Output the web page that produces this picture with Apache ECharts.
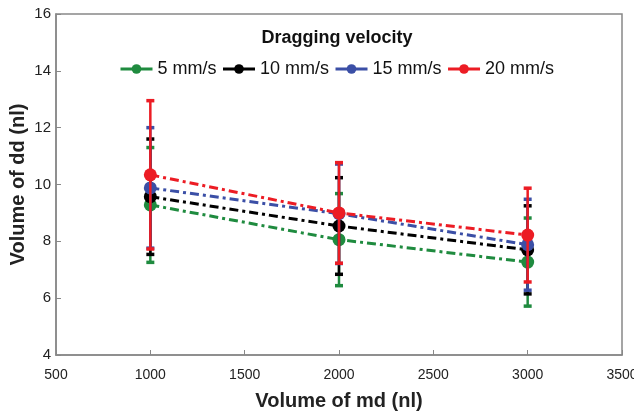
<!DOCTYPE html>
<html><head><meta charset="utf-8">
<script src="https://cdn.jsdelivr.net/npm/echarts@6/dist/echarts.min.js"></script>
<style>html,body{margin:0;padding:0;background:#fff}#c{width:634px;height:417px}</style>
</head><body><div id="c"></div>
<script>
const xs = [1000, 2000, 3000];
const names = ['5 mm/s', '10 mm/s', '15 mm/s', '20 mm/s'];
const v5 = [9.28, 8.06, 7.27];   const e5 = [2.02, 1.62, 1.55];
const v10 = [9.57, 8.54, 7.70];  const e10 = [2.03, 1.70, 1.55];
const v15 = [9.88, 8.97, 7.88];  const e15 = [2.12, 1.75, 1.60];
const v20 = [10.34, 9.00, 8.22]; const e20 = [2.61, 1.77, 1.65];
const xTicks = [500, 1000, 1500, 2000, 2500, 3000, 3500];
const yTicks = [4, 6, 8, 10, 12, 14, 16];

const colors = ['#1f8b3f', '#000000', '#3b4fa6', '#ec1c24'];
const vals = [v5, v10, v15, v20];
const errs = [e5, e10, e15, e20];

const font = 'Liberation Sans, Arial, Helvetica, sans-serif';
const series = [];
vals.forEach((v, i) => {
  const c = colors[i];
  series.push({
    type: 'custom', name: 'err' + i, z: 2 + i * 2,
    data: xs.map((x, k) => [x, v[k] - errs[i][k], v[k] + errs[i][k]]),
    renderItem: function (params, api) {
      const lo = api.coord([api.value(0), api.value(1)]);
      const hi = api.coord([api.value(0), api.value(2)]);
      const w = 4;
      return { type: 'group', children: [
        { type: 'line', shape: { x1: lo[0], y1: lo[1], x2: hi[0], y2: hi[1] }, style: { stroke: c, lineWidth: 2.5 } },
        { type: 'line', shape: { x1: lo[0] - w, y1: lo[1], x2: lo[0] + w, y2: lo[1] }, style: { stroke: c, lineWidth: 3.5 } },
        { type: 'line', shape: { x1: hi[0] - w, y1: hi[1], x2: hi[0] + w, y2: hi[1] }, style: { stroke: c, lineWidth: 3.5 } }
      ]};
    }
  });
  series.push({
    type: 'line', name: names[i], z: 3 + i * 2,
    data: xs.map((x, k) => [x, v[k]]),
    symbol: 'circle', symbolSize: 13,
    itemStyle: { color: c },
    lineStyle: { color: c, width: 3, type: [9, 4, 3, 4] },
    emphasis: { disabled: true }
  });
});

const chart = echarts.init(document.getElementById('c'));
chart.setOption({
  animation: false,
  backgroundColor: '#fff',
  title: { text: 'Dragging velocity', left: 332, top: 24, textAlign: 'center',
    textStyle: { fontFamily: font, fontWeight: 'bold', fontSize: 18, color: '#111' } },
  legend: { data: names, top: 55, left: 114, itemWidth: 32, itemHeight: 12, itemGap: 5,
    textStyle: { fontFamily: font, fontSize: 18, color: '#111' },
    lineStyle: { type: 'solid', width: 3 } },
  grid: { left: 56, right: 12, top: 14, bottom: 62, show: true, borderColor: '#888', borderWidth: 1.5,
    outerBoundsMode: 'none', containLabel: false },
  xAxis: { type: 'value', min: 500, max: 3500, interval: 500,
    name: 'Volume of md (nl)', nameLocation: 'middle', nameGap: 36, nameMoveOverlap: false,
    nameTextStyle: { fontFamily: font, fontWeight: 'bold', fontSize: 20, color: '#222' },
    axisLine: { lineStyle: { color: '#888', width: 1.5 } },
    axisTick: { inside: true, length: 5, lineStyle: { color: '#888' } },
    splitLine: { show: false },
    axisLabel: { fontFamily: font, fontSize: 14, color: '#222', margin: 13, formatter: v => String(v) } },
  yAxis: { type: 'value', min: 4, max: 16, interval: 2,
    name: 'Volume of dd (nl)', nameLocation: 'middle', nameGap: 28, nameMoveOverlap: false,
    nameTextStyle: { fontFamily: font, fontWeight: 'bold', fontSize: 20, color: '#222' },
    axisLine: { show: true, lineStyle: { color: '#888', width: 1.5 } },
    axisTick: { show: true, inside: true, length: 5, lineStyle: { color: '#888' } },
    splitLine: { show: false },
    axisLabel: { fontFamily: font, fontSize: 15, color: '#222', margin: 5, formatter: v => String(v) } },
  series: series
});
</script></body></html>
